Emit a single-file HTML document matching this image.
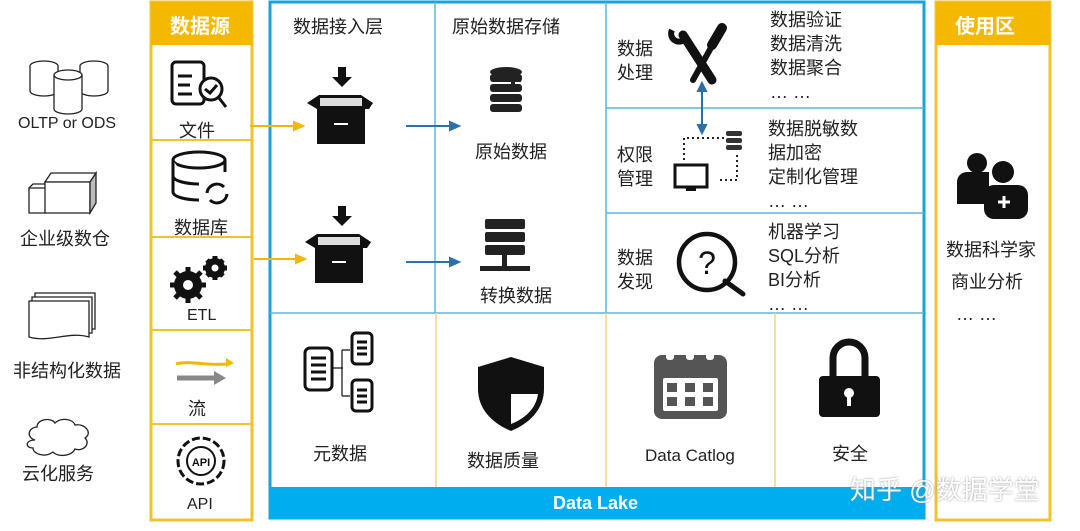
<!DOCTYPE html>
<html><head><meta charset="utf-8"><style>
body{margin:0;width:1080px;height:531px;background:#fff;position:relative;overflow:hidden;font-family:"Liberation Sans","Noto Sans CJK SC",sans-serif;color:#222}
.a{position:absolute}
.t{position:absolute;font-size:18px;white-space:nowrap}
</style></head><body>
<svg class="a" style="left:0;top:0" width="1080" height="531">
<!-- left legacy sources -->
<g fill="#fff" stroke="#222" stroke-width="1.3">
<ellipse cx="44" cy="66" rx="14" ry="5"/><path d="M30 66v25a14 5 0 0 0 28 0v-25"/>
<ellipse cx="94" cy="66" rx="14" ry="5"/><path d="M80 66v25a14 5 0 0 0 28 0v-25"/>
<path d="M54 75v34a14 5 0 0 0 28 0v-34"/><ellipse cx="68" cy="75" rx="14" ry="5"/>
<path d="M29 188h17v25h-17z"/><path d="M45 182l6-9h45l-6 9z" /><path d="M45 182h45v31h-45z"/><path d="M90 182l6-9v30l-6 10z" fill="#bbb"/><path d="M29 188l4-4h12"/>
<path d="M35 293h60v36h-60z"/><path d="M32 297h60v36h-60z"/><path d="M29 301h60v36c-20-6-40 6-60 0z"/>
<path d="M35 440c-8-2-8-12 2-13c0-8 14-10 18-4c6-6 18-4 20 2c10-2 18 8 10 13c6 6-2 14-10 11c-4 8-18 8-22 3c-8 6-20 2-20-4c-8 0-8-8 2-8z"/>
</g>
<!-- source column -->
<rect x="151" y="2" width="101" height="518" fill="#fff" stroke="#f2c12e" stroke-width="3"/>
<rect x="151" y="2" width="101" height="43" fill="#f5b800"/>
<g stroke="#f2c12e" stroke-width="2"><line x1="151" y1="140" x2="252" y2="140"/><line x1="151" y1="237" x2="252" y2="237"/><line x1="151" y1="330" x2="252" y2="330"/><line x1="151" y1="424" x2="252" y2="424"/></g>
<!-- usage column -->
<rect x="936" y="2" width="114" height="518" fill="#fff" stroke="#f2c12e" stroke-width="3"/>
<rect x="936" y="2" width="114" height="43" fill="#f5b800"/>
<!-- data lake -->
<rect x="270" y="2" width="654" height="516" fill="#fff" stroke="#1aa3d9" stroke-width="3"/>
<rect x="270" y="487" width="654" height="32" fill="#00aeef"/>
<g stroke="#5bb8da" stroke-width="1.5"><line x1="270" y1="313" x2="924" y2="313"/><line x1="435" y1="2" x2="435" y2="313"/><line x1="606" y1="2" x2="606" y2="313"/><line x1="606" y1="108" x2="924" y2="108"/><line x1="606" y1="213" x2="924" y2="213"/></g>
<g stroke="#f0d780" stroke-width="1.5"><line x1="436" y1="313" x2="436" y2="487"/><line x1="606" y1="313" x2="606" y2="487"/><line x1="775" y1="313" x2="775" y2="487"/></g>
<!-- arrows -->
<g stroke="#f2b800" stroke-width="2" fill="#f2b800"><line x1="250" y1="126" x2="296" y2="126"/><path d="M303 126l-9-4v8z"/><line x1="254" y1="259" x2="298" y2="259"/><path d="M305 259l-9-4v8z"/></g>
<g stroke="#2f6fa8" stroke-width="2" fill="#2f6fa8"><line x1="406" y1="126" x2="452" y2="126"/><path d="M459 126l-9-4v8z"/><line x1="406" y1="262" x2="452" y2="262"/><path d="M459 262l-9-4v8z"/><line x1="702" y1="90" x2="702" y2="126"/><path d="M702 83l-4 8h8z M702 133l-4-8h8z"/></g>
<!-- file icon -->
<g stroke="#111" stroke-width="3" fill="none"><rect x="172" y="62" width="32" height="42" rx="4"/><line x1="178" y1="76" x2="192" y2="76"/><line x1="178" y1="85" x2="190" y2="85"/><line x1="178" y1="94" x2="192" y2="94"/><circle cx="211" cy="89" r="11" fill="#fff"/><path d="M205 89l5 4 7-8"/><line x1="219" y1="98" x2="226" y2="107"/></g>
<!-- db icon -->
<g stroke="#111" stroke-width="3" fill="#fff"><ellipse cx="199" cy="160" rx="26" ry="8"/><path d="M173 160v32c0 5 14 8 26 8M225 160v12M173 176c0 5 14 8 26 8"/><path d="M207 193a10 10 0 0 1 17-6M227 194a10 10 0 0 1-17 6" fill="none"/></g>
<!-- gears -->
<g fill="#111"><circle cx="188" cy="285" r="14"/><circle cx="215" cy="268" r="10"/></g>
<g stroke="#111" stroke-width="5"><line x1="188" y1="267" x2="188" y2="303"/><line x1="170" y1="285" x2="206" y2="285"/><line x1="175" y1="272" x2="201" y2="298"/><line x1="201" y1="272" x2="175" y2="298"/><line x1="215" y1="256" x2="215" y2="280"/><line x1="203" y1="268" x2="227" y2="268"/><line x1="207" y1="260" x2="223" y2="276"/><line x1="223" y1="260" x2="207" y2="276"/></g>
<circle cx="188" cy="285" r="5" fill="#fff"/><circle cx="215" cy="268" r="3.5" fill="#fff"/>
<!-- stream -->
<path d="M176 364c14-4 30 2 50 0" stroke="#f2b800" stroke-width="3" fill="none"/><path d="M234 363l-8-5v9z" fill="#f2b800"/>
<line x1="177" y1="378" x2="215" y2="378" stroke="#888" stroke-width="5"/><path d="M226 378l-12-7v14z" fill="#888"/>
<!-- API -->
<circle cx="201" cy="461" r="23" fill="none" stroke="#111" stroke-width="3" stroke-dasharray="8 3"/><circle cx="201" cy="461" r="14" fill="none" stroke="#111" stroke-width="2"/>
<text x="201" y="466" font-size="11" font-weight="bold" text-anchor="middle" fill="#111">API</text>
<!-- boxes -->
<g fill="#111"><path d="M338 67h8v10h6l-10 10-10-10h6z"/><path d="M307 103l12-8h42l12 8-4 6h-52z"/><rect x="317" y="108" width="48" height="36"/>
<path d="M338 206h8v10h6l-10 10-10-10h6z"/><path d="M305 242l12-8h42l12 8-4 6h-52z"/><rect x="315" y="247" width="48" height="36"/></g>
<g fill="#ddd"><rect x="320" y="98" width="42" height="8"/><rect x="318" y="237" width="42" height="8"/></g>
<g stroke="#fff" stroke-width="2"><line x1="334" y1="124" x2="348" y2="124"/><line x1="332" y1="262" x2="346" y2="262"/></g>
<!-- raw data db -->
<g fill="#222"><ellipse cx="506" cy="72" rx="16" ry="5"/><rect x="490" y="74" width="32" height="8" rx="3"/><rect x="490" y="84" width="32" height="8" rx="3"/><rect x="490" y="94" width="32" height="8" rx="3"/><rect x="490" y="104" width="32" height="8" rx="3"/><rect x="511" y="72" width="4" height="16" fill="#222"/><rect x="505" y="78" width="16" height="4"/></g>
<!-- servers -->
<g fill="#222"><rect x="485" y="219" width="40" height="10" rx="2"/><rect x="485" y="232" width="40" height="10" rx="2"/><rect x="485" y="245" width="40" height="10" rx="2"/><rect x="480" y="266" width="50" height="5"/><rect x="502" y="255" width="5" height="12"/></g>
<!-- tools -->
<g stroke="#111" stroke-linecap="round"><line x1="683" y1="35" x2="712" y2="80" stroke-width="9"/><line x1="722" y1="28" x2="693" y2="80" stroke-width="6"/><line x1="722" y1="28" x2="712" y2="45" stroke-width="10"/></g>
<path d="M672 30a8 8 0 0 0 12 10" stroke="#111" stroke-width="6" fill="none"/>
<!-- perm -->
<g fill="none" stroke="#222" stroke-width="2" stroke-dasharray="2 3"><path d="M684 160v-22h40M737 155v25h-18"/></g>
<rect x="675" y="165" width="32" height="22" fill="none" stroke="#111" stroke-width="3"/><rect x="686" y="188" width="10" height="3" fill="#111"/>
<g fill="#333"><rect x="726" y="131" width="16" height="5" rx="2"/><rect x="726" y="138" width="16" height="5" rx="2"/><rect x="726" y="145" width="16" height="5" rx="2"/></g>
<!-- discover -->
<circle cx="707" cy="262" r="28" fill="none" stroke="#111" stroke-width="4.5"/><line x1="725" y1="281" x2="743" y2="294" stroke="#111" stroke-width="5" stroke-linecap="round"/>
<text x="707" y="274" font-size="32" text-anchor="middle" fill="#111">?</text>
<!-- users -->
<g fill="#111"><circle cx="977" cy="163" r="10"/><path d="M957 200v-18a10 10 0 0 1 10-10h22v32h-32z"/><circle cx="1003" cy="172" r="11"/><rect x="984" y="185" width="44" height="34" rx="10"/></g>
<path d="M998 202h12M1004 196v12" stroke="#fff" stroke-width="3"/>
<!-- metadata -->
<g fill="#fff" stroke="#111" stroke-width="3"><rect x="305" y="348" width="27" height="42" rx="5"/><rect x="352" y="333" width="20" height="31" rx="4"/><rect x="352" y="380" width="20" height="31" rx="4"/></g>
<g stroke="#111" stroke-width="3"><line x1="311" y1="358" x2="326" y2="358"/><line x1="311" y1="365" x2="326" y2="365"/><line x1="311" y1="372" x2="326" y2="372"/><line x1="311" y1="379" x2="326" y2="379"/><line x1="357" y1="342" x2="367" y2="342"/><line x1="357" y1="348" x2="367" y2="348"/><line x1="357" y1="354" x2="367" y2="354"/><line x1="357" y1="390" x2="367" y2="390"/><line x1="357" y1="396" x2="367" y2="396"/><line x1="357" y1="402" x2="367" y2="402"/></g>
<path d="M333 368h10M342 350v46M342 350h8M342 396h8" stroke="#111" stroke-width="1.2" fill="none"/>
<!-- shield -->
<path d="M511 357l33 10v22c0 20-14 34-33 42c-19-8-33-22-33-42v-22z" fill="#111"/>
<path d="M511 364v30h-26v-5 M511 394h27c-2 14-12 24-27 30z" fill="#fff"/>
<path d="M511 364l-26 8v22h26z" fill="#111"/>
<!-- calendar -->
<rect x="654" y="355" width="73" height="64" rx="8" fill="#555"/><g fill="#fff"><rect x="663" y="378" width="55" height="33" rx="2"/></g>
<g fill="#555"><rect x="667" y="383" width="10" height="9"/><rect x="685" y="383" width="10" height="9"/><rect x="703" y="383" width="10" height="9"/><rect x="667" y="397" width="10" height="9"/><rect x="685" y="397" width="10" height="9"/><rect x="703" y="397" width="10" height="9"/></g>
<g fill="#fff"><rect x="666" y="350" width="8" height="10" rx="3"/><rect x="686" y="350" width="8" height="10" rx="3"/><rect x="706" y="350" width="8" height="10" rx="3"/></g>
<!-- lock -->
<path d="M833 378v-20a16 16 0 0 1 32 0v20" fill="none" stroke="#111" stroke-width="7"/>
<rect x="819" y="376" width="61" height="41" rx="4" fill="#111"/><circle cx="849" cy="393" r="5" fill="#fff"/><rect x="847" y="394" width="4" height="12" fill="#fff"/>
</svg>
<div class="t" style="left:18px;top:115px;font-size:16px">OLTP or ODS</div>
<div class="t" style="left:20px;top:225px">企业级数仓</div>
<div class="t" style="left:13px;top:357px">非结构化数据</div>
<div class="t" style="left:22px;top:460px">云化服务</div>
<div class="t" style="left:170px;top:10px;color:#fff;font-size:20px;font-weight:bold">数据源</div>
<div class="t" style="left:179px;top:117px">文件</div>
<div class="t" style="left:174px;top:214px">数据库</div>
<div class="t" style="left:187px;top:307px;font-size:16px">ETL</div>
<div class="t" style="left:188px;top:395px">流</div>
<div class="t" style="left:187px;top:496px;font-size:16px">API</div>
<div class="t" style="left:955px;top:10px;color:#fff;font-size:20px;font-weight:bold">使用区</div>
<div class="t" style="left:293px;top:13px">数据接入层</div>
<div class="t" style="left:452px;top:13px">原始数据存储</div>
<div class="t" style="left:475px;top:138px">原始数据</div>
<div class="t" style="left:480px;top:282px">转换数据</div>
<div class="t" style="left:617px;top:37px;line-height:24px">数据<br>处理</div>
<div class="t" style="left:617px;top:143px;line-height:24px">权限<br>管理</div>
<div class="t" style="left:617px;top:246px;line-height:24px">数据<br>发现</div>
<div class="t" style="left:770px;top:8px;line-height:24px">数据验证<br>数据清洗<br>数据聚合<br>… …</div>
<div class="t" style="left:768px;top:117px;line-height:24px">数据脱敏数<br>据加密<br>定制化管理<br>… …</div>
<div class="t" style="left:768px;top:220px;line-height:24px">机器学习<br>SQL分析<br>BI分析<br>… …</div>
<div class="t" style="left:946px;top:234px;line-height:32px">数据科学家<br>&nbsp;商业分析<br>&nbsp;&nbsp;… …</div>
<div class="t" style="left:313px;top:440px">元数据</div>
<div class="t" style="left:467px;top:447px">数据质量</div>
<div class="t" style="left:645px;top:446px;font-size:17px">Data Catlog</div>
<div class="t" style="left:832px;top:440px">安全</div>
<div class="t" style="left:553px;top:493px;color:#fff;font-weight:bold;font-size:18px">Data Lake</div>
<div class="t" style="left:850px;top:470px;font-size:26px;color:#fff;text-shadow:0 0 2px #888;opacity:.9">知乎 @数据学堂</div>
</body></html>
